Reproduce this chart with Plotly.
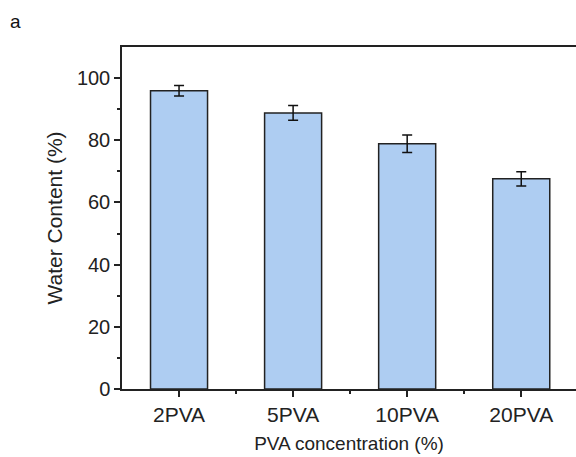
import plotly.graph_objects as go

categories = ["2PVA", "5PVA", "10PVA", "20PVA"]
water_content = [95.9, 88.8, 78.9, 67.6]
errors = [1.7, 2.4, 2.8, 2.3]
y_ticks = [0, 20, 40, 60, 80, 100]
y_minor = [10, 30, 50, 70, 90]

xpos = list(range(len(categories)))
x_minor = [i + 0.5 for i in xpos[:-1]]

W, H = 576, 457
L, R, T, B = 122, 0, 47, 68

fig = go.Figure()
fig.add_trace(go.Bar(
    x=xpos, y=water_content, width=0.5,
    marker=dict(color="#aecdf2", line=dict(color="#222222", width=1.5)),
    error_y=dict(type="data", array=errors, visible=True, color="#111111", thickness=1.5, width=5),
))

font_family = "Liberation Sans, Arial, sans-serif"
axis_col = "#222222"
fig.update_layout(
    width=W, height=H,
    margin=dict(l=L, r=R, t=T, b=B, autoexpand=False),
    paper_bgcolor="white", plot_bgcolor="white",
    showlegend=False,
    font=dict(family=font_family, size=20, color="#222222"),
    xaxis=dict(
        range=[-0.5, 3.48],
        tickvals=xpos, ticktext=categories,
        showline=True, linecolor=axis_col, linewidth=1.5, mirror=True,
        ticks="outside", ticklen=6, tickwidth=1.5, tickcolor=axis_col,
        minor=dict(tickvals=x_minor, ticks="outside", ticklen=3, tickwidth=1.5, tickcolor=axis_col),
        showgrid=False, zeroline=False,
        title=dict(text="PVA concentration (%)", font=dict(size=19), standoff=12),
        tickfont=dict(size=21),
    ),
    yaxis=dict(
        range=[0, 110],
        tickvals=y_ticks,
        showline=True, linecolor=axis_col, linewidth=1.5, mirror=False,
        ticks="outside", ticklen=6, tickwidth=1.5, tickcolor=axis_col,
        minor=dict(tickvals=y_minor, ticks="outside", ticklen=3, tickwidth=1.5, tickcolor=axis_col),
        showgrid=False, zeroline=False,
        title=dict(text="Water Content (%)", font=dict(size=21), standoff=9),
        tickfont=dict(size=20),
    ),
)
pw, ph = W - L - R, H - T - B
fig.add_annotation(text="a", xref="paper", yref="paper",
                   x=(15 - L) / pw, y=1 + (T - 21) / ph, xanchor="center", yanchor="middle",
                   showarrow=False, font=dict(size=19, color="#111111"))

fig.write_html("out.html",
               config={"displayModeBar": False},
               post_script="document.body.style.margin='0';document.body.style.overflow='hidden';")
